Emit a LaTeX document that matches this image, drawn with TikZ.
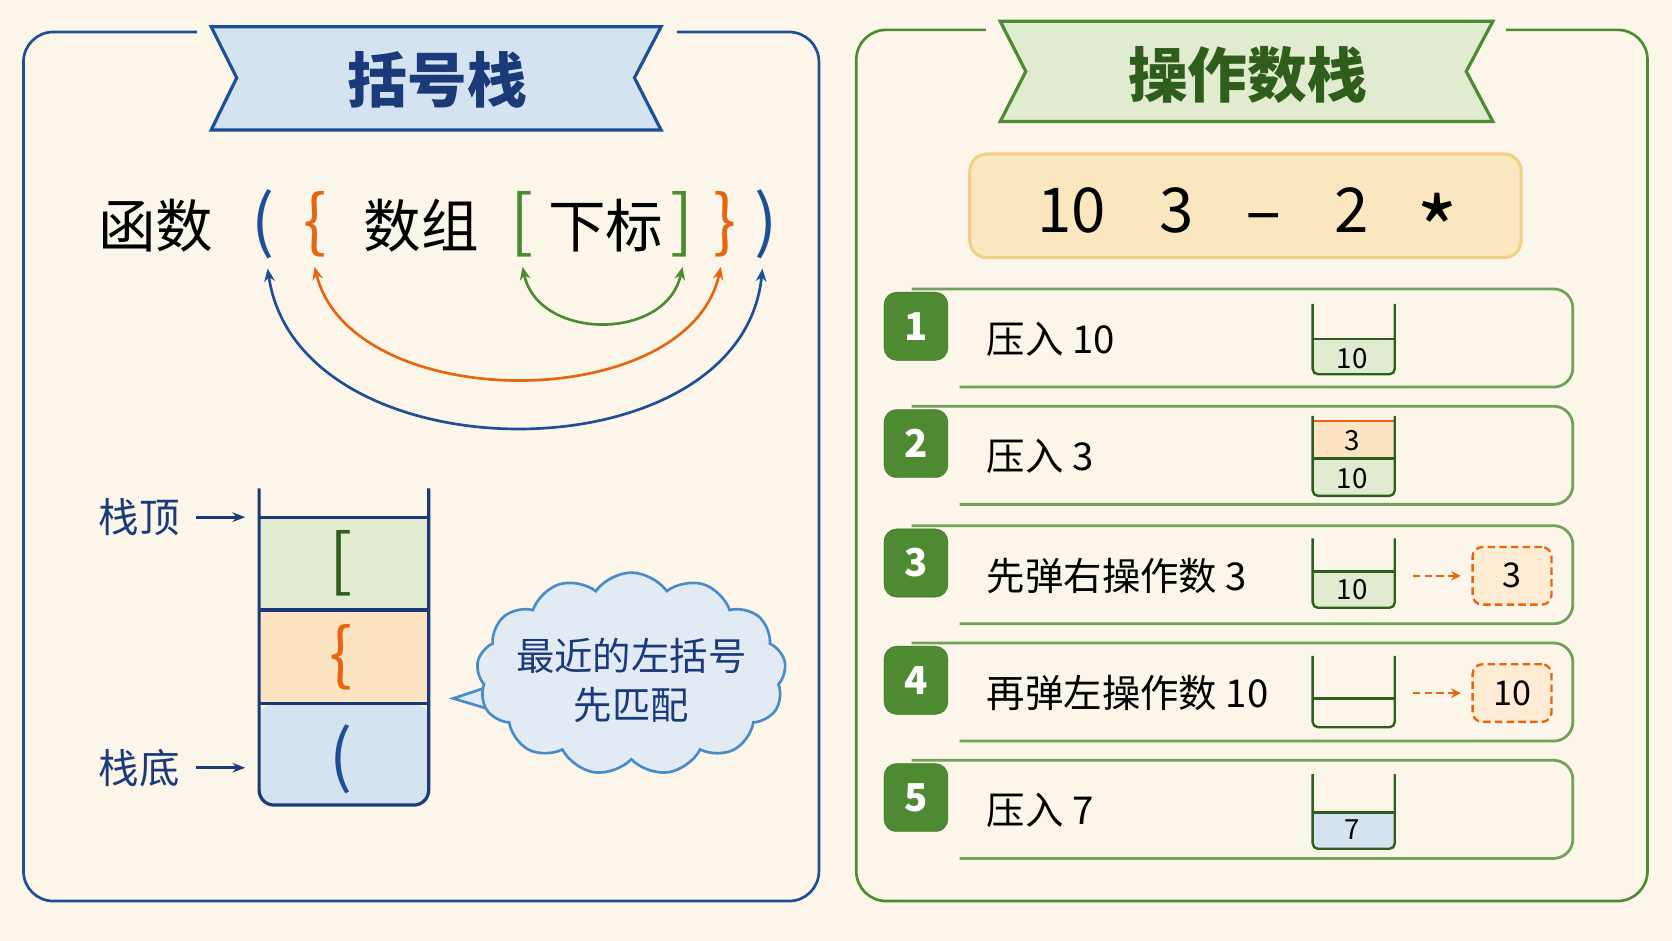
\documentclass[tikz,border=0pt]{standalone}
\usepackage{fontspec}
\setmainfont{Noto Sans CJK SC}
\usetikzlibrary{shapes.symbols,arrows.meta}
\definecolor{bg}{HTML}{FBF6E9}
\definecolor{bl}{HTML}{1F4E99}
\definecolor{nv}{HTML}{1B3A7A}
\definecolor{gr}{HTML}{4E8A32}
\definecolor{dg}{HTML}{2F5E1C}
\definecolor{og}{HTML}{E8650F}
\definecolor{lb}{HTML}{D5E3F0}
\definecolor{lg}{HTML}{E1EBCF}
\definecolor{lo}{HTML}{FCE3C1}
\definecolor{eb}{HTML}{FBE7BF}
\definecolor{ebd}{HTML}{F2CF86}
\definecolor{cl}{HTML}{4A8CC8}
\begin{document}
\begin{tikzpicture}[x=1pt,y=-1pt,
 panel/.style={line width=2.5pt,rounded corners=28pt},
 big/.style={font=\fontsize{54}{54}\selectfont},
 brk/.style={font=\fontsize{64}{64}\selectfont},
 rowbox/.style={draw=gr!80,line width=2.6pt,rounded corners=18pt},
 badge/.style={fill=gr,draw=gr!80!black,rounded corners=12pt,minimum width=60pt,minimum height=64pt,text=white,font=\fontsize{36}{36}\selectfont\bfseries,inner sep=0},
 rowtxt/.style={anchor=west,font=\fontsize{36}{36}\selectfont},
 cellt/.style={font=\fontsize{26}{26}\selectfont},
 dsh/.style={line width=2.2pt,dash pattern=on 7pt off 4pt},
 arc/.style={line width=2.5pt,{Stealth[length=12pt,width=10pt]}-{Stealth[length=12pt,width=10pt]}},
 lbl/.style={text=nv,font=\fontsize{38}{38}\selectfont}]
\useasboundingbox (0,0) rectangle (1568,882);
\fill[bg] (0,0) rectangle (1568,882);
% panels
\draw[panel,bl] (22,30) rectangle (768,845);
\draw[panel,gr] (803,28) rectangle (1545,845);
% banners
\fill[bg] (185,20) rectangle (635,130);
\draw[bl,line width=3pt,fill=lb] (198,25) -- (620,25) -- (595,73) -- (620,122) -- (198,122) -- (222,73) -- cycle;
\node[text=nv,font=\fontsize{56}{56}\selectfont\bfseries] (t1) at (410,75) {括号栈};
\fill[bg] (925,15) rectangle (1412,125);
\draw[gr,line width=3pt,fill=lg] (938,20) -- (1400,20) -- (1375,67) -- (1400,114) -- (938,114) -- (962,67) -- cycle;
\node[text=dg,font=\fontsize{56}{56}\selectfont\bfseries] (t2) at (1170,70) {操作数栈};
% expression
\node[big] (fn) at (146,212) {函数};
\node[brk,text=bl] (p1) at (247,210) {(};
\node[brk,text=og] (b1) at (295,210) {\{};
\node[big] (sz) at (395,212) {数组};
\node[brk,text=gr] (k1) at (490,210) {[};
\node[big] (xb) at (568,212) {下标};
\node[brk,text=gr] (k2) at (640,210) {]};
\node[brk,text=og] (b2) at (680,210) {\}};
\node[brk,text=bl] (p2) at (718,210) {)};
\draw[arc,gr] ([yshift=-6pt]k1.south) .. controls (505,320) and (625,320) .. ([yshift=-6pt]k2.south);
\draw[arc,og] ([yshift=-6pt]b1.south) .. controls (330,390) and (645,390) .. ([xshift=-4pt,yshift=-6pt]b2.south);
\draw[arc,bl] ([xshift=4pt,yshift=-6pt]p1.south) .. controls (280,450) and (695,450) .. ([xshift=-3pt,yshift=-6pt]p2.south);
% stack
\fill[lg] (243,485) rectangle (402,572);
\fill[lo] (243,572) rectangle (402,660);
\fill[lb,rounded corners=14pt] (243,660) -- (243,755) -- (402,755) -- (402,660) -- cycle;
\draw[nv,line width=3pt] (243,485) -- (402,485) (243,572) -- (402,572) (243,660) -- (402,660);
\draw[nv,line width=3pt,rounded corners=14pt] (243,458) -- (243,755) -- (402,755) -- (402,458);
\node[brk,text=dg] (s1) at (320,528) {[};
\node[brk,text=og] (s2) at (320,616) {\{};
\node[brk,text=bl] (s3) at (320,712) {(};
\node[lbl,anchor=east] (top) at (172,485) {栈顶};
\node[lbl,anchor=east] (bot) at (172,720) {栈底};
\coordinate (ta) at (230,485);
\coordinate (ba) at (230,720);
\draw[nv,line width=3pt,-{Stealth[length=12pt]}] (top.east) ++(12,0) -- (ta);
\draw[nv,line width=3pt,-{Stealth[length=12pt]}] (bot.east) ++(12,0) -- (ba);
% cloud
\draw[cl,line width=2.5pt,fill=lb!70!white] (470,640) -- (425,655) -- (475,670) -- cycle;
\node[cloud,cloud puffs=13,cloud puff arc=110,aspect=1.7,draw=cl,line width=2.5pt,fill=lb!70!white,minimum width=290pt,minimum height=190pt,inner sep=0] (cld) at (592,632) {};
\node[text=nv,font=\fontsize{36}{46}\selectfont,align=center] (ct) at (592,638) {最近的左括号\\先匹配};
% expression box
\node[draw=ebd,fill=eb,line width=3pt,rounded corners=16pt,minimum width=517pt,minimum height=97pt] (ex) at (1168,193) {};
\foreach \t/\x/\n/\s/\f in {10/1005/e1/0/58,3/1103/e2/0/58,−/1185/e3/-6/58,2/1268/e4/0/58,*/1348/e5/-30/84}
  \node[font=\fontsize{\f}{\f}\selectfont,anchor=base,inner sep=0] (\n) at (\x,218) {\raisebox{\s pt}{\t}};
% rows
\foreach \i/\y/\t in {1/318/压入 10,2/428/压入 3,3/540/先弹右操作数 3,4/650/再弹左操作数 10,5/760/压入 7}{
  \draw[rowbox] (855,\y-47) -- (1475,\y-47) -- (1475,\y+45) -- (900,\y+45);
  \node[badge] (n\i) at (859,\y-12) {\i};
  \node[rowtxt] (r\i) at (922,\y) {\t};
}
% mini stacks
\tikzset{ms/.style={draw=dg,line width=2.2pt,rounded corners=5pt}}
\fill[lg] (1231,318) rectangle (1308,351);
\draw[dg,line width=2pt] (1231,318) -- (1308,318);
\draw[ms] (1231,285) -- (1231,351) -- (1308,351) -- (1308,285);
\node[cellt] (m1) at (1268,336) {10};
\fill[lo] (1231,395) rectangle (1308,430);
\fill[lg] (1231,430) rectangle (1308,465);
\draw[og,line width=2pt] (1231,395) -- (1308,395);
\draw[dg,line width=2pt] (1231,430) -- (1308,430);
\draw[ms] (1231,390) -- (1231,465) -- (1308,465) -- (1308,390);
\node[cellt] (m2a) at (1268,413) {3};
\node[cellt] (m2b) at (1268,449) {10};
\fill[lg] (1231,536) rectangle (1308,570);
\draw[dg,line width=2pt] (1231,536) -- (1308,536);
\draw[ms] (1231,505) -- (1231,570) -- (1308,570) -- (1308,505);
\node[cellt] (m3) at (1268,553) {10};
\draw[dg,line width=2pt] (1231,655) -- (1308,655);
\draw[ms] (1231,615) -- (1231,682) -- (1308,682) -- (1308,615);
\fill[lb] (1231,762) rectangle (1308,796);
\draw[dg,line width=2pt] (1231,762) -- (1308,762);
\draw[ms] (1231,726) -- (1231,796) -- (1308,796) -- (1308,726);
\node[cellt] (m5) at (1268,778) {7};
% popped
\node[draw=og,dsh,fill=lo!70!white,rounded corners=9pt,minimum width=74pt,minimum height=54pt,font=\fontsize{32}{32}\selectfont] (o3) at (1418,540) {3};
\node[draw=og,dsh,fill=lo!70!white,rounded corners=9pt,minimum width=74pt,minimum height=54pt,font=\fontsize{32}{32}\selectfont] (o4) at (1418,650) {10};
\coordinate (a3) at (1325,540);
\coordinate (a4) at (1325,650);
\draw[og,dsh,-{Stealth[length=9pt,width=9pt]}] (a3) -- ([xshift=-10pt]o3.west);
\draw[og,dsh,-{Stealth[length=9pt,width=9pt]}] (a4) -- ([xshift=-10pt]o4.west);
\end{tikzpicture}
\end{document}
